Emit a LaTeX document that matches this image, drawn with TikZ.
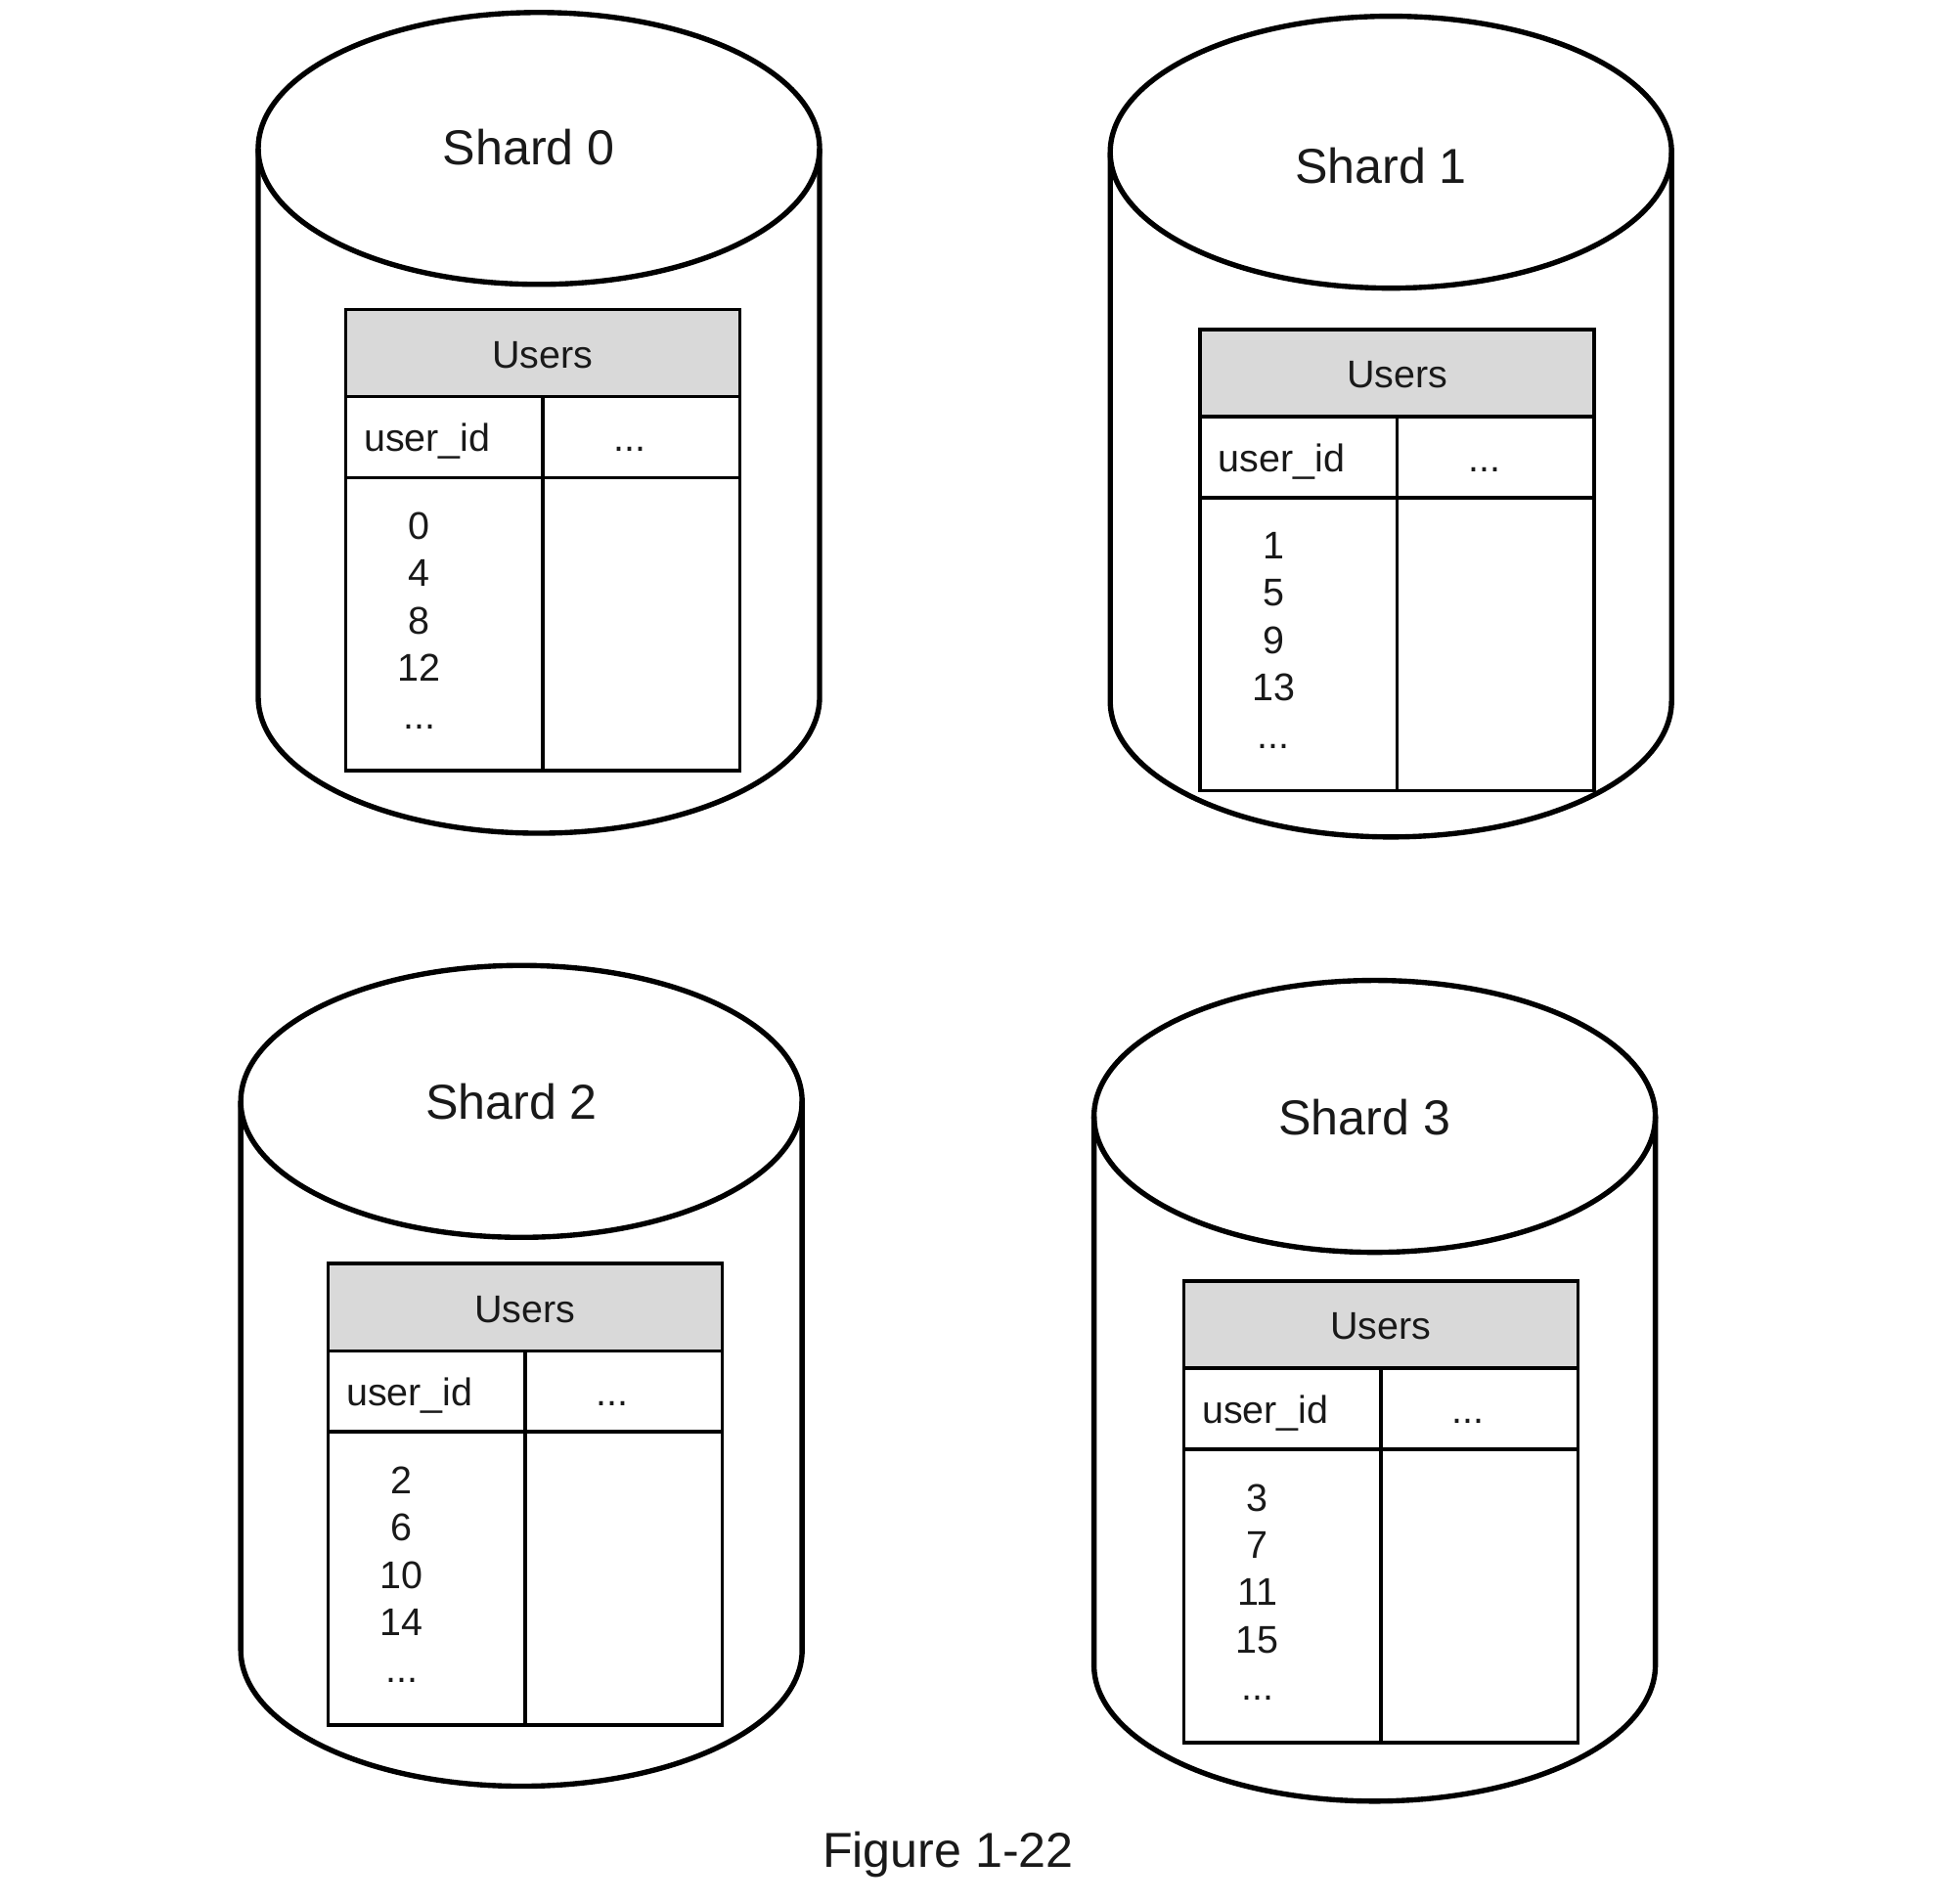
\documentclass[tikz,border=0pt]{standalone}
\usepackage{fontspec}
\setmainfont{Liberation Sans}
\usetikzlibrary{positioning}

\tikzset{
  shard/.style={line width=1.2pt},
  tbl/.style={line width=0.8pt},
  hdr/.style={tbl, fill=black!15},
  cell/.style={inner sep=0pt, text=black!90, font=\fontsize{8.8}{10.8}\selectfont,
    text height=1.6ex, text depth=.3ex},
  idlist/.style={inner sep=0pt, text=black!90, font=\fontsize{8.8}{10.8}\selectfont,
    align=center, anchor=north},
  title/.style={inner sep=0pt, text=black!90, font=\fontsize{11.2}{13}\selectfont},
}

\begin{document}
\begin{tikzpicture}[x=0.1mm, y=-0.1mm]
\useasboundingbox (0,0) rectangle (1568,1526);
% one cylinder per shard: index / centre x / top y / table corner / title y
\foreach \k/\cx/\cy/\tx/\ty/\ly in {0/432/119/277/248/118, 1/1115/122/962/264/133,
                                    2/418/883/263/1013/883, 3/1102/895/949/1027/896}{
  \pgfmathtruncatemacro{\ia}{\k+4}
  \pgfmathtruncatemacro{\ib}{\k+8}
  \pgfmathtruncatemacro{\ic}{\k+12}
  % cylinder
  \draw[shard] (\cx,\cy) ellipse [x radius=225, y radius=109];
  \draw[shard] (\cx-225,\cy) -- (\cx-225,\cy+440)
     arc[start angle=180, end angle=0, x radius=225, y radius=109]
     -- (\cx+225,\cy);
  \node[title] (shard\k) at (\cx-8,\ly) {Shard \k};
  % users table
  \draw[hdr] (\tx,\ty) rectangle ++(316,70);
  \draw[tbl] (\tx,\ty+70) rectangle ++(316,300);
  \draw[tbl] (\tx,\ty+135) -- ++(316,0);
  \draw[tbl] (\tx+158,\ty+70) -- ++(0,300);
  \node[cell] (users\k) at (\tx+158,\ty+35) {Users};
  \node[cell, anchor=west] (uid\k) at (\tx+14,\ty+102) {user\_id};
  \node[cell] (more\k) at (\tx+228,\ty+102) {...};
  \node[idlist] (ids\k) at (\tx+59,\ty+162) {\k\\\ia\\\ib\\\ic\\...};
}
\node[title] (caption) at (760,1487) {Figure 1-22};
\end{tikzpicture}
\end{document}
